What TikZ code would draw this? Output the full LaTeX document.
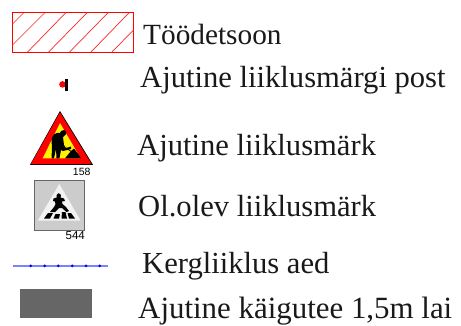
\documentclass[tikz,border=0pt]{standalone}
\usepackage{fontspec}
\setmainfont{Liberation Serif}
\newfontfamily\signfont{Liberation Sans}
\tikzset{
  legendtext/.style={anchor=base west,inner sep=0pt,font=\fontsize{30.6}{34}\selectfont,text=black!90},
  signnum/.style={inner sep=0pt,font=\signfont\fontsize{10.5}{11}\selectfont},
  hatch/.style={red!85!white,line width=0.7pt}
}
\begin{document}
\begin{tikzpicture}[x=1pt,y=-1pt]
\useasboundingbox (0,0) rectangle (461,325);
% hatched area
\draw[red,line width=0.9pt] (12.5,12.5) rectangle (133.5,52.3);
\foreach \a/\b/\c/\d in {12.5/24/24/12.5,12.5/45/45/12.5,27.3/52.3/66/12.5,48.3/52.3/87.3/12.5,69.3/52.3/108.3/12.5,90.7/52.3/129.3/12.5,111.7/52.3/133.5/30}
  \draw[hatch] (\a,\b) -- (\c,\d);
\node[legendtext,font=\fontsize{29.3}{34}\selectfont] (t1) at (143,44) {Töödetsoon};
% post
\fill[red] (62.5,84.4) circle (3.3);
\fill[black] (65.2,79) rectangle (67.7,90.5);
\node[legendtext] (t2) at (140,87.5) {Ajutine liiklusmärgi post};
% warning sign
\fill[black] (60,111) -- (93,164.8) -- (30,164.8) -- cycle;
\fill[red] (60,112.5) -- (91.5,164) -- (31,164) -- cycle;
\fill[yellow] (60,123) -- (80.7,158.3) -- (42.7,158.3) -- cycle;
\fill[black] (64,130) .. controls (66,130) and (67,132) .. (66,134) -- (63,137)
  -- (64,145) -- (66,148) -- (71,146.5) -- (71,149) -- (63,151) -- (61,150) -- (59.5,158.3) -- (56.5,158.3) -- (56,149) -- (54,158.3) -- (51.5,158.3) -- (52,148)
  -- (51.5,140) .. controls (52,135) and (56,132) .. (60,133) -- (61,131) -- cycle;
\fill[black] (65,158.3) -- (71,151) -- (74,148.5) -- (79,155) -- (81,158.3) -- cycle;
\draw[black,line width=0.8pt] (66,148) -- (75,154);
\node[signnum] (n158) at (81.7,171.7) {158};
\node[legendtext] (t3) at (137,155) {Ajutine liiklusmärk};
% info sign
\fill[black!20] (34.3,180) rectangle (84.3,230);
\draw[black!60,line width=0.8pt] (34.3,180) -- (34.3,230) -- (84.3,230) -- (84.3,180) -- cycle;
\fill[black!5] (59.3,184) -- (80.7,220.7) -- (37.7,220.7) -- cycle;
\fill[black] (56.5,195) .. controls (57,192.5) and (60.5,192.5) .. (61,195) -- (60.5,197.5) -- (64,198.5) -- (65,201) -- (62,201.5) -- (62.5,204) -- (66,207) -- (69,211) -- (66.5,212) -- (62,208) -- (59,208) -- (55,212) -- (50,212) -- (54,207) -- (55.5,204) -- (55,201.5) -- (53,201) -- (53.5,198.5) -- (56.5,197.5) -- cycle;
\fill[black] (44,218.5) -- (48,213) -- (53,213) -- (50,218.5) -- cycle;
\fill[black] (53.5,218.5) -- (55.5,214) -- (60,214) -- (59,218.5) -- cycle;
\fill[black] (61.5,218.5) -- (62,212) -- (65.5,212) -- (67,218.5) -- cycle;
\fill[black] (69,218.5) -- (67.5,213) -- (71,213) -- (75,218.5) -- cycle;
\node[signnum,font=\signfont\fontsize{11.5}{12}\selectfont] (n544) at (75.3,236) {544};
\node[legendtext] (t4) at (138,216.8) {Ol.olev liiklusmärk};
% fence
\draw[blue!50!white,line width=1.4pt] (13,265.8) -- (108,265.8);
\foreach \x in {30.7,44.7,58.3,72.3,86,99.7}
  \fill[blue] (\x,265.8) circle (1.5);
\node[legendtext] (t5) at (142,273.3) {Kergliiklus aed};
% walkway
\fill[black!60] (20,289.3) rectangle (92,318.3);
\node[legendtext,font=\fontsize{30.9}{34}\selectfont] (t6) at (138,318) {Ajutine käigutee 1,5m lai};
\end{tikzpicture}
\end{document}
